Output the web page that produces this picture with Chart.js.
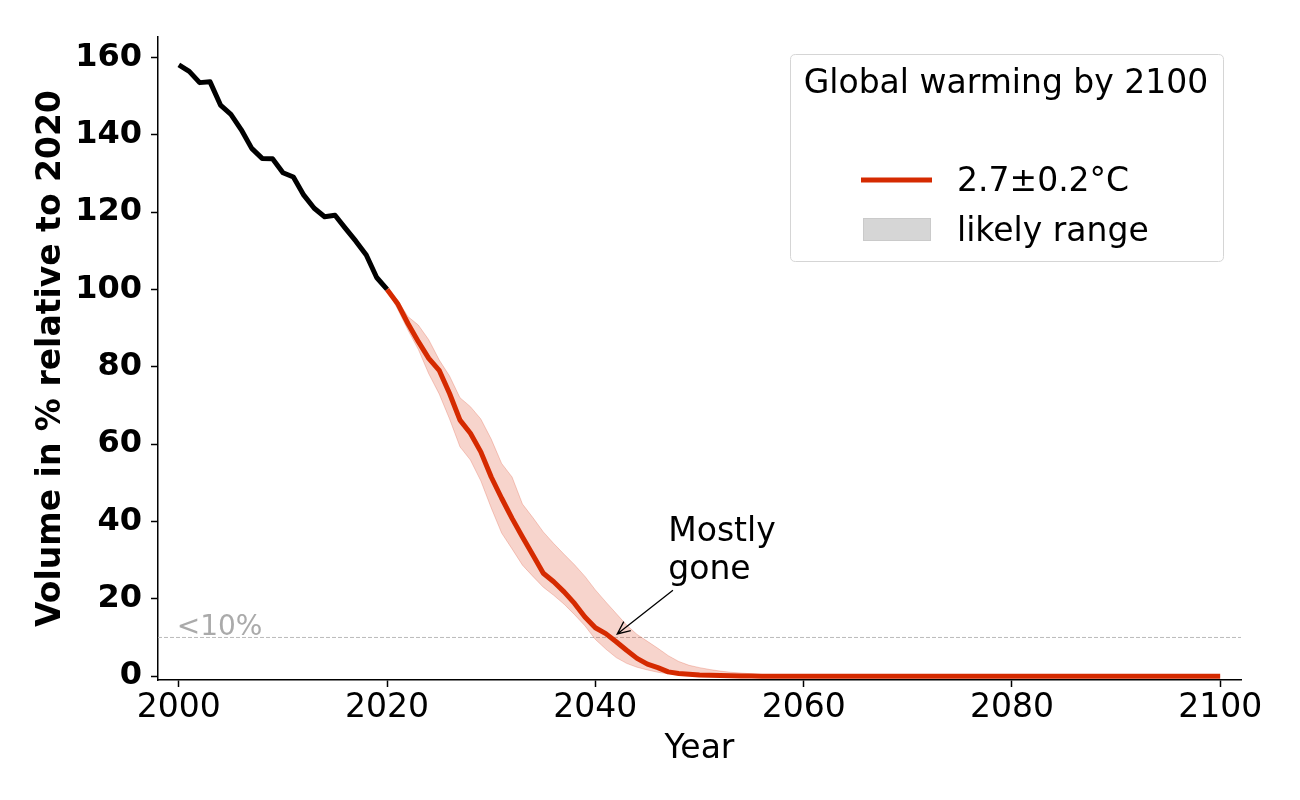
<!DOCTYPE html>
<html>
<head>
<meta charset="utf-8">
<script src="https://cdn.jsdelivr.net/npm/chart.js@4.4.1/dist/chart.umd.min.js"></script>
<style>
  html, body { margin: 0; padding: 0; background: #fff; }
  #wrap { width: 1300px; height: 800px; position: relative; }
</style>
</head>
<body>
<div id="wrap"><canvas id="c" width="1300" height="800"></canvas></div>
<script>
// ---- data ----
const histYears = [2000,2001,2002,2003,2004,2005,2006,2007,2008,2009,2010,2011,2012,2013,2014,2015,2016,2017,2018,2019,2020];
const histVolume = [158.1,156.4,153.5,153.7,147.7,145.3,141.3,136.5,133.9,133.8,130.2,129.1,124.4,121.0,118.8,119.2,115.8,112.5,108.9,103.1,100.0];

const projYears = [2020,2021,2022,2023,2024,2025,2026,2027,2028,2029,
  2030,2031,2032,2033,2034,2035,2036,2037,2038,2039,
  2040,2041,2042,2043,2044,2045,2046,2047,2048,2049,
  2050,2051,2052,2053,2054,2055,2056,2057,2058,2059,
  2060,2061,2062,2063,2064,2065,2066,2067,2068,2069,
  2070,2071,2072,2073,2074,2075,2076,2077,2078,2079,
  2080,2081,2082,2083,2084,2085,2086,2087,2088,2089,
  2090,2091,2092,2093,2094,2095,2096,2097,2098,2099,2100];
const projMean = [100.0,96.4,91.2,86.5,82.2,79.1,73.1,66.2,62.8,58.0,
  51.5,46.0,40.8,36.0,31.3,26.6,24.4,21.8,18.8,15.3,
  12.5,11.0,8.9,6.7,4.6,3.1,2.2,1.1,0.7,0.5,
  0.3,0.2,0.15,0.1,0.05,0.03,0,0,0,0,
  0,0,0,0,0,0,0,0,0,0,
  0,0,0,0,0,0,0,0,0,0,
  0,0,0,0,0,0,0,0,0,0,
  0,0,0,0,0,0,0,0,0,0,0];
const projUpper = [100.0,97.3,93.0,90.8,87.0,81.8,77.6,72.0,69.7,66.5,
  61.3,55.0,51.5,44.5,41.0,37.3,34.3,31.5,28.8,25.8,
  22.3,19.2,16.2,13.2,10.8,9.0,7.2,5.3,3.8,2.8,
  2.2,1.7,1.3,1.0,0.8,0.6,0.4,0.3,0.2,0.1,
  0,0,0,0,0,0,0,0,0,0,
  0,0,0,0,0,0,0,0,0,0,
  0,0,0,0,0,0,0,0,0,0,
  0,0,0,0,0,0,0,0,0,0,0];
const projLower = [100.0,95.0,89.5,84.5,78.2,73.0,66.5,59.3,55.9,50.5,
  43.5,37.0,32.9,28.7,25.8,23.0,20.9,18.6,15.9,13.0,
  9.5,7.0,4.8,3.3,2.3,1.6,1.0,0.6,0.4,0.2,
  0.1,0.05,0,0,0,0,0,0,0,0,
  0,0,0,0,0,0,0,0,0,0,
  0,0,0,0,0,0,0,0,0,0,
  0,0,0,0,0,0,0,0,0,0,
  0,0,0,0,0,0,0,0,0,0,0];

const xTickValues = [2000,2020,2040,2060,2080,2100];
const yTickValues = [0,20,40,60,80,100,120,140,160];
const thresholdYears = [1998,2102];
const thresholdValue = [10,10];

const legendTitle = 'Global warming by 2100';
const seriesLabel = '2.7±0.2°C';
const rangeLabel = 'likely range';
const thresholdLabel = '<10%';
const noteLines = ['Mostly', 'gone'];
const noteTarget = [2042.1, 10.9];
const noteTail = [2047.45, 22.2];
const noteTextAt = [2047, 35, 25];

// ---- styling ----
const FONT = 'DejaVu Sans';
const RED = '#d52a00';
const BAND = 'rgba(213,42,0,0.2)';
const BAND_EDGE = 'rgba(213,42,0,0.22)';

const pts = (xs, ys) => xs.map((x, i) => ({x: x, y: ys[i]}));

const overlayPlugin = {
  id: 'overlay',
  afterDatasetsDraw(chart) {
    const ctx = chart.ctx;
    const xs = chart.scales.x, ys = chart.scales.y;
    ctx.save();
    // "<10%" label
    ctx.font = '28px "' + FONT + '"';
    ctx.fillStyle = '#aaaaaa';
    ctx.textAlign = 'left';
    ctx.textBaseline = 'alphabetic';
    ctx.fillText(thresholdLabel, xs.getPixelForValue(1999.8), ys.getPixelForValue(10.6));
    // "Mostly gone" note
    ctx.font = '33px "' + FONT + '"';
    ctx.fillStyle = '#000';
    ctx.fillText(noteLines[0], xs.getPixelForValue(noteTextAt[0]), ys.getPixelForValue(noteTextAt[1]));
    ctx.fillText(noteLines[1], xs.getPixelForValue(noteTextAt[0]), ys.getPixelForValue(noteTextAt[2]));
    // arrow
    const tx = xs.getPixelForValue(noteTarget[0]), ty = ys.getPixelForValue(noteTarget[1]);
    const sx = xs.getPixelForValue(noteTail[0]), sy = ys.getPixelForValue(noteTail[1]);
    ctx.strokeStyle = '#000';
    ctx.lineWidth = 1.3;
    ctx.beginPath();
    ctx.moveTo(sx, sy);
    ctx.lineTo(tx, ty);
    const ang = Math.atan2(ty - sy, tx - sx);
    const hl = 14, ha = 0.42;
    ctx.moveTo(tx - hl * Math.cos(ang - ha), ty - hl * Math.sin(ang - ha));
    ctx.lineTo(tx, ty);
    ctx.lineTo(tx - hl * Math.cos(ang + ha), ty - hl * Math.sin(ang + ha));
    ctx.stroke();
    ctx.restore();
  },
  afterDraw(chart) {
    const ctx = chart.ctx;
    ctx.save();
    // legend box
    const bx = 790.5, by = 54.5, bw = 433, bh = 207, r = 5;
    ctx.beginPath();
    ctx.moveTo(bx + r, by);
    ctx.lineTo(bx + bw - r, by);
    ctx.quadraticCurveTo(bx + bw, by, bx + bw, by + r);
    ctx.lineTo(bx + bw, by + bh - r);
    ctx.quadraticCurveTo(bx + bw, by + bh, bx + bw - r, by + bh);
    ctx.lineTo(bx + r, by + bh);
    ctx.quadraticCurveTo(bx, by + bh, bx, by + bh - r);
    ctx.lineTo(bx, by + r);
    ctx.quadraticCurveTo(bx, by, bx + r, by);
    ctx.closePath();
    ctx.fillStyle = 'rgba(255,255,255,0.85)';
    ctx.fill();
    ctx.strokeStyle = '#d5d5d5';
    ctx.lineWidth = 1;
    ctx.stroke();
    // title
    ctx.font = '33px "' + FONT + '"';
    ctx.fillStyle = '#000';
    ctx.textAlign = 'center';
    ctx.textBaseline = 'alphabetic';
    ctx.fillText(legendTitle, bx + bw / 2 - 1, 93);
    // line entry
    ctx.strokeStyle = RED;
    ctx.lineWidth = 5;
    ctx.beginPath();
    ctx.moveTo(861, 180);
    ctx.lineTo(932, 180);
    ctx.stroke();
    ctx.textAlign = 'left';
    ctx.fillText(seriesLabel, 957, 191);
    // patch entry
    ctx.fillStyle = '#d6d6d6';
    ctx.fillRect(863, 218, 68, 23);
    ctx.strokeStyle = '#cacaca';
    ctx.lineWidth = 1;
    ctx.strokeRect(863.5, 218.5, 67, 22);
    ctx.fillStyle = '#000';
    ctx.fillText(rangeLabel, 957, 241);
    ctx.restore();
  }
};

const chart = new Chart(document.getElementById('c'), {
  type: 'line',
  data: {
    datasets: [
      { label: seriesLabel, data: pts(projYears, projMean), borderColor: RED, borderWidth: 5,
        pointRadius: 0, fill: false, tension: 0, borderJoinStyle: 'round', borderCapStyle: 'butt', order: 0 },
      { label: 'observed', data: pts(histYears, histVolume), borderColor: '#000', borderWidth: 5,
        pointRadius: 0, fill: false, tension: 0, borderJoinStyle: 'round', borderCapStyle: 'butt', order: 1 },
      { label: rangeLabel + ' upper', data: pts(projYears, projUpper), borderColor: BAND_EDGE, borderWidth: 1,
        backgroundColor: BAND, pointRadius: 0, fill: '+1', tension: 0, order: 3 },
      { label: rangeLabel + ' lower', data: pts(projYears, projLower), borderColor: BAND_EDGE, borderWidth: 1,
        pointRadius: 0, fill: false, tension: 0, order: 4 },
      { label: thresholdLabel, data: pts(thresholdYears, thresholdValue), borderColor: '#bbbbbb', borderWidth: 1,
        borderDash: [4, 2], pointRadius: 0, fill: false, tension: 0, order: 5 }
    ]
  },
  options: {
    responsive: false,
    animation: false,
    devicePixelRatio: 1,
    layout: { padding: { top: 37, right: 59, left: 0, bottom: 0 } },
    plugins: { legend: { display: false }, tooltip: { enabled: false }, title: { display: false } },
    scales: {
      x: {
        type: 'linear', min: 1998, max: 2102,
        afterBuildTicks: s => { s.ticks = xTickValues.map(v => ({ value: v })); },
        afterFit: s => { s.height = 120; },
        grid: { display: true, drawOnChartArea: false, drawTicks: true, tickLength: 7, tickWidth: 1.5, tickColor: '#000' },
        border: { display: true, color: '#000', width: 1.5 },
        ticks: { font: { family: FONT, size: 33 }, color: '#000', padding: 2, maxRotation: 0, autoSkip: false,
          callback: v => String(v) },
        title: { display: true, text: 'Year', font: { family: FONT, size: 33 }, color: '#000', padding: { top: 0, bottom: 31 } }
      },
      y: {
        type: 'linear', min: -1, max: 165.3,
        afterBuildTicks: s => { s.ticks = yTickValues.map(v => ({ value: v })); },
        afterFit: s => { s.width = 158; },
        grid: { display: true, drawOnChartArea: false, drawTicks: true, tickLength: 7, tickWidth: 1.5, tickColor: '#000' },
        border: { display: true, color: '#000', width: 1.5 },
        ticks: { font: { family: FONT, size: 32, weight: 'bold' }, color: '#000', padding: 9, autoSkip: false,
          callback: v => String(v) },
        title: { display: true, text: 'Volume in % relative to 2020', font: { family: FONT, size: 33, weight: 'bold' },
          color: '#000', padding: { top: 32, bottom: 0 } }
      }
    }
  },
  plugins: [overlayPlugin]
});
</script>
</body>
</html>
